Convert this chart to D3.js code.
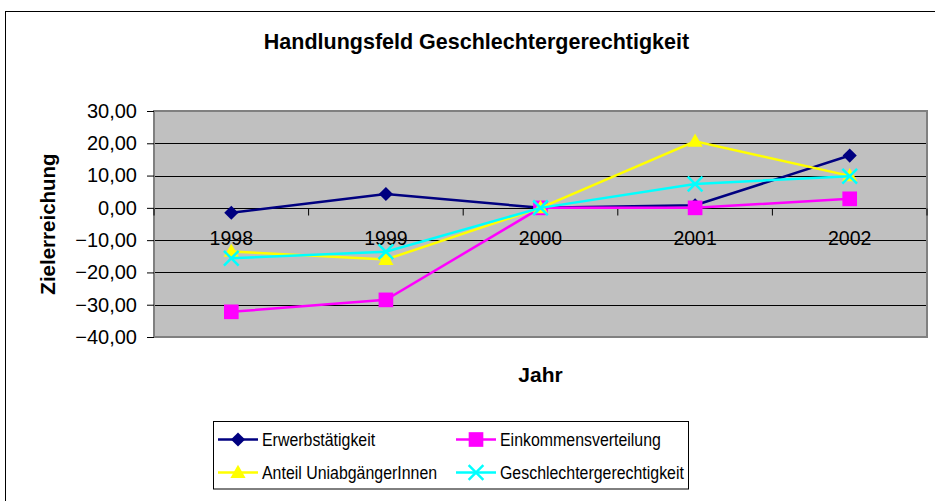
<!DOCTYPE html>
<html>
<head>
<meta charset="utf-8">
<script src="https://cdn.jsdelivr.net/npm/d3@7"></script>
<style>
  body { margin: 0; background: #fff; }
  svg { display: block; font-family: "Liberation Sans", Arial, sans-serif; }
</style>
</head>
<body>
<div id="chart"></div>
<script>
// data
var years = ["1998", "1999", "2000", "2001", "2002"];
var erwerb = [-1.5, 4.3, 0, 0.8, 16.2];
var einkommen = [-32.2, -28.5, 0, 0, 2.8];
var uni = [-13.5, -16.0, 0, 20.6, 9.9];
var gerecht = [-15.6, -13.6, 0, 7.4, 9.8];
var yTicks = [30, 20, 10, 0, -10, -20, -30, -40];

var series = [
  {name: "Erwerbstätigkeit", values: erwerb, color: "#000080", shape: "diamond"},
  {name: "Einkommensverteilung", values: einkommen, color: "#FF00FF", shape: "square"},
  {name: "Anteil UniabgängerInnen", values: uni, color: "#FFFF00", shape: "triangle"},
  {name: "Geschlechtergerechtigkeit", values: gerecht, color: "#00FFFF", shape: "times"}
];

var W = 935, H = 501;
var plot = {left: 154, right: 927, top: 111, bottom: 337};

var svg = d3.select("#chart").append("svg")
  .attr("width", W)
  .attr("height", H);

// outer chart frame (runs off the page to the right / bottom)
svg.append("rect")
  .attr("x", 5.5).attr("y", 11.5)
  .attr("width", 960).attr("height", 520)
  .attr("fill", "#fff")
  .attr("stroke", "#000");

svg.append("text")
  .attr("x", 476.5).attr("y", 49)
  .attr("text-anchor", "middle")
  .style("font-weight", "bold")
  .style("font-size", "21.5px")
  .text("Handlungsfeld Geschlechtergerechtigkeit");

var x = d3.scalePoint().domain(years).range([plot.left, plot.right]).padding(0.5);
var y = d3.scaleLinear().domain([-40, 30]).range([plot.bottom, plot.top]);
var step = x.step();

var de = d3.formatLocale({decimal: ",", thousands: ".", grouping: [3], currency: ["", " €"]});
var fmt = de.format(".2f");

// plot background
svg.append("rect")
  .attr("x", plot.left).attr("y", plot.top)
  .attr("width", plot.right - plot.left)
  .attr("height", plot.bottom - plot.top)
  .attr("fill", "#C0C0C0");

// gridlines
svg.append("g")
  .selectAll("line")
  .data(yTicks.filter(function(d){ return d < 30 && d > -40; }))
  .enter().append("line")
  .attr("x1", plot.left).attr("x2", plot.right)
  .attr("y1", function(d){ return Math.round(y(d)) + 0.5; })
  .attr("y2", function(d){ return Math.round(y(d)) + 0.5; })
  .attr("stroke", "#000")
  .attr("stroke-width", 1);

// plot border
svg.append("rect")
  .attr("x", plot.left).attr("y", plot.top)
  .attr("width", plot.right - plot.left)
  .attr("height", plot.bottom - plot.top)
  .attr("fill", "none")
  .attr("stroke", "#808080")
  .attr("stroke-width", 2);

// y axis
var yAxis = svg.append("g")
  .attr("transform", "translate(" + plot.left + ",0)")
  .call(d3.axisLeft(y).tickValues(yTicks).tickFormat(fmt).tickSize(7).tickPadding(10));
yAxis.select(".domain").remove();
yAxis.selectAll("line").attr("stroke", "#000");
yAxis.selectAll("text")
  .style("font-size", "20px")
  .style("font-family", "'Liberation Sans', Arial, sans-serif")
  .attr("fill", "#000");

// category axis sits on the zero line
var y0 = Math.round(y(0)) + 0.5;
var xTickPos = d3.range(years.length + 1).map(function(i){ return x(years[0]) - step / 2 + i * step; });
svg.append("g")
  .selectAll("line")
  .data(xTickPos)
  .enter().append("line")
  .attr("x1", function(d){ return d; }).attr("x2", function(d){ return d; })
  .attr("y1", y0).attr("y2", y0 + 7)
  .attr("stroke", "#000");

svg.append("g")
  .selectAll("text")
  .data(years)
  .enter().append("text")
  .attr("x", function(d){ return x(d); })
  .attr("y", y0 + 36.5)
  .attr("text-anchor", "middle")
  .style("font-size", "19.5px")
  .text(function(d){ return d; });

// axis titles
svg.append("text")
  .attr("transform", "translate(55,224) rotate(-90)")
  .attr("text-anchor", "middle")
  .style("font-weight", "bold")
  .style("font-size", "20.5px")
  .text("Zielerreichung");

svg.append("text")
  .attr("x", (plot.left + plot.right) / 2)
  .attr("y", 382)
  .attr("text-anchor", "middle")
  .style("font-weight", "bold")
  .style("font-size", "21px")
  .text("Jahr");

// markers
function symbolFor(shape) {
  if (shape == "diamond") return d3.symbol().type(d3.symbolSquare).size(100)();
  if (shape == "square") return d3.symbol().type(d3.symbolSquare).size(215)();
  if (shape == "triangle") return d3.symbol().type(d3.symbolTriangle).size(100)();
  return d3.symbol().type(d3.symbolTimes).size(143)();
}

function drawMarker(g, s, cx, cy) {
  var p = g.append("path")
    .attr("d", symbolFor(s.shape));
  if (s.shape == "diamond") {
    p.attr("transform", "translate(" + cx + "," + cy + ") rotate(45)");
  } else if (s.shape == "triangle") {
    p.attr("transform", "translate(" + cx + "," + (cy + 1) + ")");
  } else {
    p.attr("transform", "translate(" + cx + "," + cy + ")");
  }
  if (s.shape == "times") {
    p.attr("fill", "none").attr("stroke", s.color).attr("stroke-width", 2.5);
  } else {
    p.attr("fill", s.color);
  }
}

var line = d3.line()
  .x(function(d, i){ return x(years[i]); })
  .y(function(d){ return y(d); });

var lines = svg.append("g").attr("clip-path", null);
series.forEach(function(s){
  var g = lines.append("g");
  g.append("path")
    .datum(s.values)
    .attr("d", line)
    .attr("fill", "none")
    .attr("stroke", s.color)
    .attr("stroke-width", 2.5);
  s.values.forEach(function(v, i){
    drawMarker(g, s, x(years[i]), y(v));
  });
});

// legend
var lg = svg.append("g");
lg.append("rect")
  .attr("x", 213.5).attr("y", 421.5)
  .attr("width", 475).attr("height", 67.5)
  .attr("fill", "#fff")
  .attr("stroke", "#000");

var legCols = [218, 456];
var legRows = [439.5, 472.5];
series.forEach(function(s, i){
  var lx = legCols[i % 2], ly = legRows[Math.floor(i / 2)];
  var g = lg.append("g");
  g.append("line")
    .attr("x1", lx).attr("x2", lx + 40)
    .attr("y1", ly).attr("y2", ly)
    .attr("stroke", s.color)
    .attr("stroke-width", 2.5);
  drawMarker(g, s, lx + 20, ly);
  g.append("text")
    .attr("transform", "translate(" + (lx + 44) + "," + (ly + 6.5) + ") scale(0.86,1)")
    .style("font-size", "18.5px")
    .text(s.name);
});
</script>
</body>
</html>
